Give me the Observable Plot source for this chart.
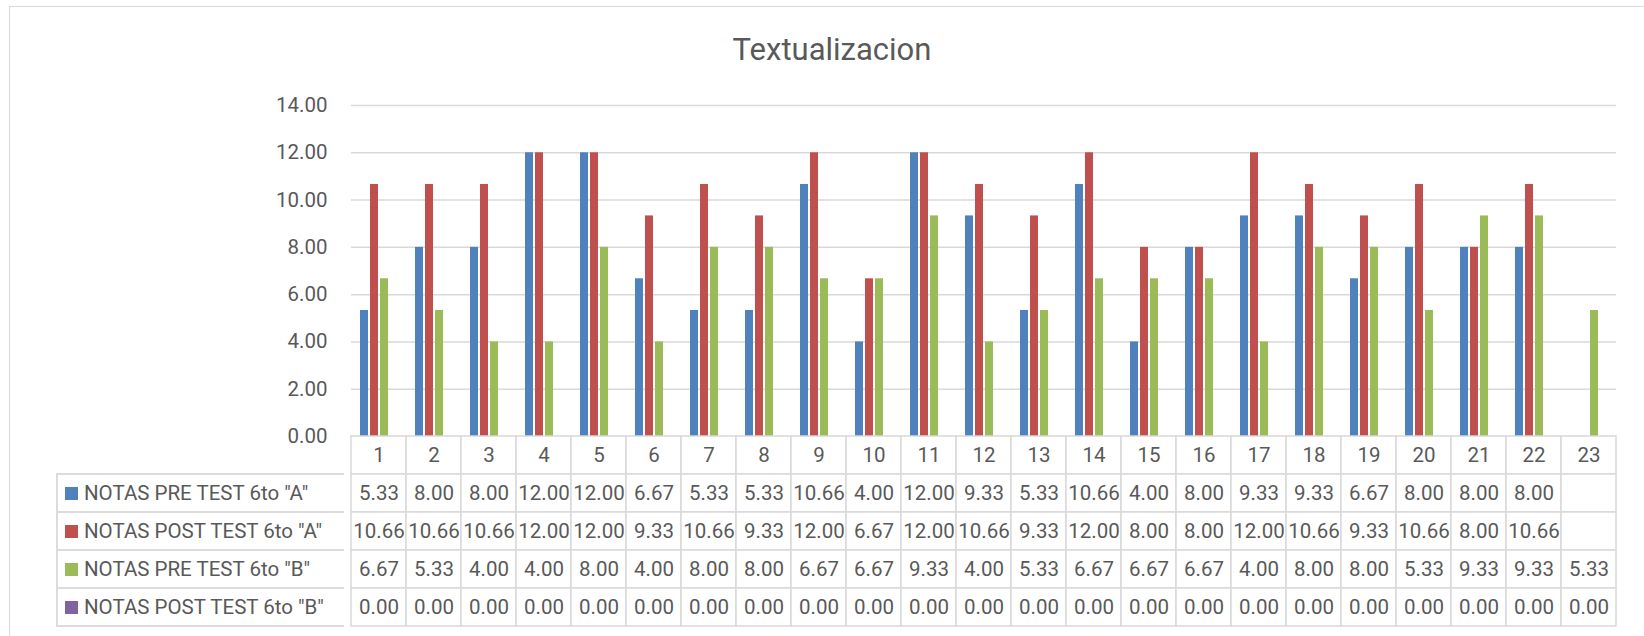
<!DOCTYPE html>
<html>
<head>
<meta charset="utf-8">
<script src="https://cdn.jsdelivr.net/npm/d3@7"></script>
<script src="https://cdn.jsdelivr.net/npm/@observablehq/plot@0.6"></script>
<style>
  html, body { margin: 0; padding: 0; background: #fff; }
  body { width: 1644px; height: 636px; overflow: hidden; position: relative; font-family: Roboto, sans-serif; color: #595959; }
  #frame { position: absolute; left: 9px; top: 6px; width: 1700px; height: 700px; border: 1.5px solid #d9d9d9; box-sizing: border-box; }
  #title { position: absolute; left: 0; width: 1664px; top: 31px; text-align: center; font-size: 31px; color: #595959; }
  #chart { position: absolute; left: 0; top: 0; }
  #table { position: absolute; left: 0; top: 435px; }
  #legend { position: absolute; left: 56px; top: 473px; width: 288px; border-left: 2px solid #dcdcdc; border-bottom: 2px solid #dcdcdc; box-sizing: border-box; }
  .lrow { height: 38px; border-top: 2px solid #dcdcdc; box-sizing: border-box; display: flex; align-items: center; font-size: 20.5px; white-space: nowrap; }
  .sw { width: 13px; height: 13px; margin-left: 7px; margin-right: 6px; flex: none; }
</style>
</head>
<body>
<div id="frame"></div>
<div id="title">Textualizacion</div>
<div id="chart"></div>
<div id="table"></div>
<div id="legend"></div>
<script>
// ---- data ----
const categories = ["1","2","3","4","5","6","7","8","9","10","11","12","13","14","15","16","17","18","19","20","21","22","23"];
const seriesNames = ['NOTAS PRE TEST 6to "A"', 'NOTAS POST TEST 6to "A"', 'NOTAS PRE TEST 6to "B"', 'NOTAS POST TEST 6to "B"'];
const preTestA  = [5.33, 8.00, 8.00, 12.00, 12.00, 6.67, 5.33, 5.33, 10.66, 4.00, 12.00, 9.33, 5.33, 10.66, 4.00, 8.00, 9.33, 9.33, 6.67, 8.00, 8.00, 8.00, null];
const postTestA = [10.66, 10.66, 10.66, 12.00, 12.00, 9.33, 10.66, 9.33, 12.00, 6.67, 12.00, 10.66, 9.33, 12.00, 8.00, 8.00, 12.00, 10.66, 9.33, 10.66, 8.00, 10.66, null];
const preTestB  = [6.67, 5.33, 4.00, 4.00, 8.00, 4.00, 8.00, 8.00, 6.67, 6.67, 9.33, 4.00, 5.33, 6.67, 6.67, 6.67, 4.00, 8.00, 8.00, 5.33, 9.33, 9.33, 5.33];
const postTestB = [0, 0, 0, 0, 0, 0, 0, 0, 0, 0, 0, 0, 0, 0, 0, 0, 0, 0, 0, 0, 0, 0, 0];
const yTicks = [0, 2, 4, 6, 8, 10, 12, 14];
const seriesColors = ["#4F81BD", "#C0504D", "#9BBB59", "#8064A2"];

const seriesValues = [preTestA, postTestA, preTestB, postTestB];
const fmt = d3.format(".2f");

const long = categories.flatMap((c, i) =>
  seriesNames.map((s, j) => ({cat: c, series: s, value: seriesValues[j][i]})));

// ---- bar chart ----
const chart = Plot.plot({
  width: 1644,
  height: 470,
  marginLeft: 344,
  marginRight: 22,
  marginTop: 105,
  marginBottom: 34,
  style: {fontFamily: "Roboto, sans-serif", fontSize: "20.5px", color: "#595959", background: "transparent"},
  facet: {data: long, x: "cat"},
  fx: {domain: categories, padding: 0, axis: null},
  x: {domain: seriesNames, paddingInner: 0.245, paddingOuter: 0.8, axis: null},
  y: {domain: [0, 14], ticks: yTicks, tickFormat: ".2f", tickSize: 0, tickPadding: 24, label: null},
  color: {domain: seriesNames, range: seriesColors},
  marks: [
    Plot.ruleY(yTicks, {stroke: "#d9d9d9", strokeWidth: 1.5}),
    Plot.barY(long, {x: "series", y: "value", fill: "series"})
  ]
});
document.getElementById("chart").appendChild(chart);

// ---- data table ----
const rows = ["header", ...seriesNames];
const cells = [
  ...categories.map(c => ({cat: c, row: "header", label: c})),
  ...seriesNames.flatMap((s, j) => categories.map((c, i) => ({
    cat: c, row: s, label: seriesValues[j][i] == null ? "" : fmt(seriesValues[j][i])
  })))
];
const table = Plot.plot({
  width: 1644,
  height: 192,
  marginLeft: 344,
  marginRight: 22,
  marginTop: 1,
  marginBottom: 1,
  style: {fontFamily: "Roboto, sans-serif", fontSize: "20.5px", color: "#595959", background: "transparent"},
  x: {domain: categories, padding: 0, axis: null},
  y: {domain: rows, padding: 0, axis: null},
  marks: [
    Plot.cell(cells, {x: "cat", y: "row", fill: "white", stroke: "#d9d9d9", strokeWidth: 1.5, inset: 0}),
    Plot.text(cells, {x: "cat", y: "row", text: "label", fill: "#595959"})
  ]
});
document.getElementById("table").appendChild(table);

// ---- legend column ----
const legend = document.getElementById("legend");
seriesNames.forEach((s, j) => {
  const row = document.createElement("div");
  row.className = "lrow";
  const sw = document.createElement("span");
  sw.className = "sw";
  sw.style.background = seriesColors[j];
  const t = document.createElement("span");
  t.textContent = s;
  row.appendChild(sw);
  row.appendChild(t);
  legend.appendChild(row);
});
</script>
</body>
</html>
